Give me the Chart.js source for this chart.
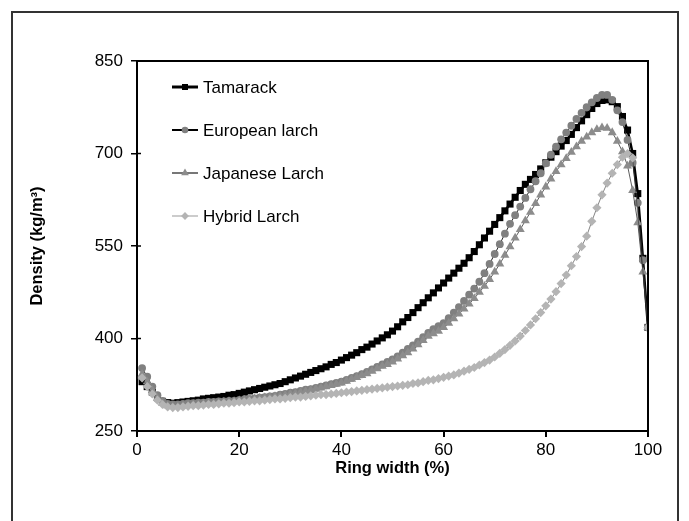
<!DOCTYPE html>
<html>
<head>
<meta charset="utf-8">
<script src="https://cdn.jsdelivr.net/npm/chart.js"></script>
<style>
  html, body { margin: 0; padding: 0; background: #fff; }
  #wrap { width: 689px; height: 521px; }
</style>
</head>
<body>
<div id="wrap"><canvas id="density" width="689" height="521"></canvas></div>
<script>
// ring width positions (%)
const ringWidth = [1,2,3,4,5,6,7,8,9,10,11,12,13,14,15,16,17,18,19,20,
  21,22,23,24,25,26,27,28,29,30,31,32,33,34,35,36,37,38,39,40,
  41,42,43,44,45,46,47,48,49,50,51,52,53,54,55,56,57,58,59,60,
  61,62,63,64,65,66,67,68,69,70,71,72,73,74,75,76,77,78,79,80,
  81,82,83,84,85,86,87,88,89,90,91,92,93,94,95,96,97,98,99,100];

const tamarack = [330,322,313,304,298,296,295,296,297,298,299,300,302,303,304,305,306,308,309,311,
  313,315,317,319,321,323,325,327,330,333,336,339,342,345,348,351,354,358,361,365,
  369,373,377,382,386,391,396,401,406,412,419,427,434,442,450,458,466,474,482,490,
  498,506,514,522,531,541,552,563,574,585,596,607,618,629,640,650,658,666,675,685,
  694,703,712,721,731,742,753,763,773,781,786,787,784,776,760,738,700,635,530,418];

const european = [352,338,322,308,299,294,293,293,294,295,295,296,296,297,297,298,298,299,299,300,
  301,302,303,304,305,306,307,309,310,312,313,315,317,318,320,322,324,326,328,330,
  333,336,339,342,346,350,354,358,362,366,371,377,383,389,395,402,409,415,420,425,
  433,442,451,461,471,481,492,506,521,537,553,570,586,600,614,628,642,655,668,684,
  698,711,723,734,745,756,766,775,783,790,795,795,787,770,751,722,685,620,527,418];

const japanese = [342,330,316,303,295,291,290,290,291,292,293,293,294,295,295,296,297,298,298,299,
  300,301,302,303,304,305,306,307,308,310,311,313,314,316,318,320,322,324,326,328,
  331,334,337,340,343,347,351,355,358,362,367,372,377,383,390,397,404,408,412,418,
  425,432,440,448,456,465,475,485,496,508,521,535,549,563,577,591,605,619,633,646,
  659,671,682,692,702,711,720,727,734,739,742,741,734,720,703,680,640,588,508,418];

const hybrid = [336,322,310,300,293,289,288,288,289,290,291,291,292,293,293,294,295,295,296,297,
  297,298,299,299,300,301,302,302,303,304,305,305,306,307,308,309,309,310,311,312,
  313,314,315,316,317,318,319,320,321,322,323,324,325,327,328,330,332,333,335,337,
  339,341,344,347,350,353,357,361,365,370,376,382,389,396,404,413,422,432,442,453,
  464,476,489,503,518,533,549,566,590,612,633,652,668,682,694,700,693,null,null,418];

const seriesNames = ["Tamarack", "European larch", "Japanese Larch", "Hybrid Larch"];
const yTicks = [250, 400, 550, 700, 850];
const xTicks = [0, 20, 40, 60, 80, 100];

const FONT = "'Liberation Sans', Arial, sans-serif";

function pts(values) {
  return ringWidth.map((x, i) => ({ x: x, y: values[i] }));
}

const styles = [
  { line: "#000", lw: 2.5, marker: "rect", fill: "#000", r: 5 },
  { line: "#222", lw: 1, marker: "circle", fill: "#808080", r: 3.9 },
  { line: "#333", lw: 0.8, marker: "triangle", fill: "#8c8c8c", r: 5.2 },
  { line: "#333", lw: 0.6, marker: "rectRot", fill: "#b4b4b4", r: 4.6 }
];
const allValues = [tamarack, european, japanese, hybrid];

const datasets = allValues.map((v, i) => ({
  label: seriesNames[i],
  data: pts(v),
  borderColor: styles[i].line,
  borderWidth: styles[i].lw,
  pointStyle: styles[i].marker,
  pointRadius: styles[i].r,
  pointBackgroundColor: styles[i].fill,
  pointBorderColor: styles[i].fill,
  pointBorderWidth: 0,
  spanGaps: true,
  tension: 0,
  order: 4 - i
}));

function drawMarker(ctx, kind, x, y, r, color) {
  ctx.save();
  ctx.fillStyle = color;
  ctx.beginPath();
  if (kind === "rect") {
    const s = r * Math.SQRT1_2;
    ctx.rect(x - s, y - s, 2 * s, 2 * s);
  } else if (kind === "circle") {
    ctx.arc(x, y, r, 0, Math.PI * 2);
  } else if (kind === "triangle") {
    ctx.moveTo(x, y - r);
    ctx.lineTo(x + r * 0.866, y + r * 0.5);
    ctx.lineTo(x - r * 0.866, y + r * 0.5);
    ctx.closePath();
  } else {
    ctx.moveTo(x, y - r);
    ctx.lineTo(x + r, y);
    ctx.lineTo(x, y + r);
    ctx.lineTo(x - r, y);
    ctx.closePath();
  }
  ctx.fill();
  ctx.restore();
}

const framePlugin = {
  id: "frame",
  beforeDraw(chart) {
    const ctx = chart.ctx;
    ctx.save();
    ctx.fillStyle = "#fff";
    ctx.fillRect(0, 0, chart.width, chart.height);
    ctx.strokeStyle = "#333";
    ctx.lineWidth = 2;
    ctx.strokeRect(12, 12, 666, 530);
    ctx.restore();
  },
  afterDraw(chart) {
    const ctx = chart.ctx;
    const a = chart.chartArea;
    ctx.save();
    ctx.strokeStyle = "#000";
    ctx.lineWidth = 2;
    ctx.beginPath();
    ctx.moveTo(a.left, a.top);
    ctx.lineTo(a.right, a.top);
    ctx.lineTo(a.right, a.bottom);
    ctx.stroke();
    // small inward part of y ticks
    const ys = chart.scales.y;
    ctx.lineWidth = 1.5;
    yTicks.forEach(t => {
      const py = ys.getPixelForValue(t);
      ctx.beginPath();
      ctx.moveTo(a.left, py);
      ctx.lineTo(a.left + 4, py);
      ctx.stroke();
    });
    // legend
    const rowY = [87, 130, 173, 216];
    ctx.font = "17px " + FONT;
    ctx.textBaseline = "middle";
    seriesNames.forEach((name, i) => {
      const s = styles[i];
      ctx.strokeStyle = i === 2 ? "#777" : (i === 3 ? "#999" : "#000");
      ctx.lineWidth = i === 0 ? 3 : (i === 3 ? 1 : 2);
      ctx.beginPath();
      ctx.moveTo(172, rowY[i]);
      ctx.lineTo(198, rowY[i]);
      ctx.stroke();
      drawMarker(ctx, s.marker, 185, rowY[i], s.r * 0.85, s.fill);
      ctx.fillStyle = "#000";
      ctx.fillText(name, 203, rowY[i] + 1);
    });
    ctx.restore();
  }
};

new Chart(document.getElementById("density"), {
  type: "line",
  data: { datasets: datasets },
  plugins: [framePlugin],
  options: {
    responsive: false,
    animation: false,
    layout: { padding: { left: 24, right: 41, top: 61, bottom: 39 } },
    plugins: { legend: { display: false }, tooltip: { enabled: false } },
    scales: {
      x: {
        type: "linear",
        min: 0,
        max: 100,
        afterBuildTicks: s => { s.ticks = xTicks.map(v => ({ value: v })); },
        afterFit: s => { s.height = 51; },
        grid: { display: true, drawOnChartArea: false, drawTicks: true, tickLength: 6, color: "#000", lineWidth: 2 },
        border: { display: true, color: "#000", width: 2 },
        ticks: { color: "#000", padding: 3, font: { family: FONT, size: 17 } },
        title: { display: true, text: "Ring width (%)", color: "#000", padding: { top: 2 }, font: { family: FONT, size: 16.5, weight: "bold" } }
      },
      y: {
        type: "linear",
        min: 250,
        max: 850,
        afterBuildTicks: s => { s.ticks = yTicks.map(v => ({ value: v })); },
        afterFit: s => { s.width = 113; },
        grid: { display: true, drawOnChartArea: false, drawTicks: true, tickLength: 6, color: "#000", lineWidth: 1.5 },
        border: { display: true, color: "#000", width: 2 },
        ticks: { color: "#000", padding: 8, font: { family: FONT, size: 17 } },
        title: { display: true, text: "Density (kg/m³)", color: "#000", padding: { bottom: 4 }, font: { family: FONT, size: 16.5, weight: "bold" } }
      }
    }
  }
});
</script>
</body>
</html>
